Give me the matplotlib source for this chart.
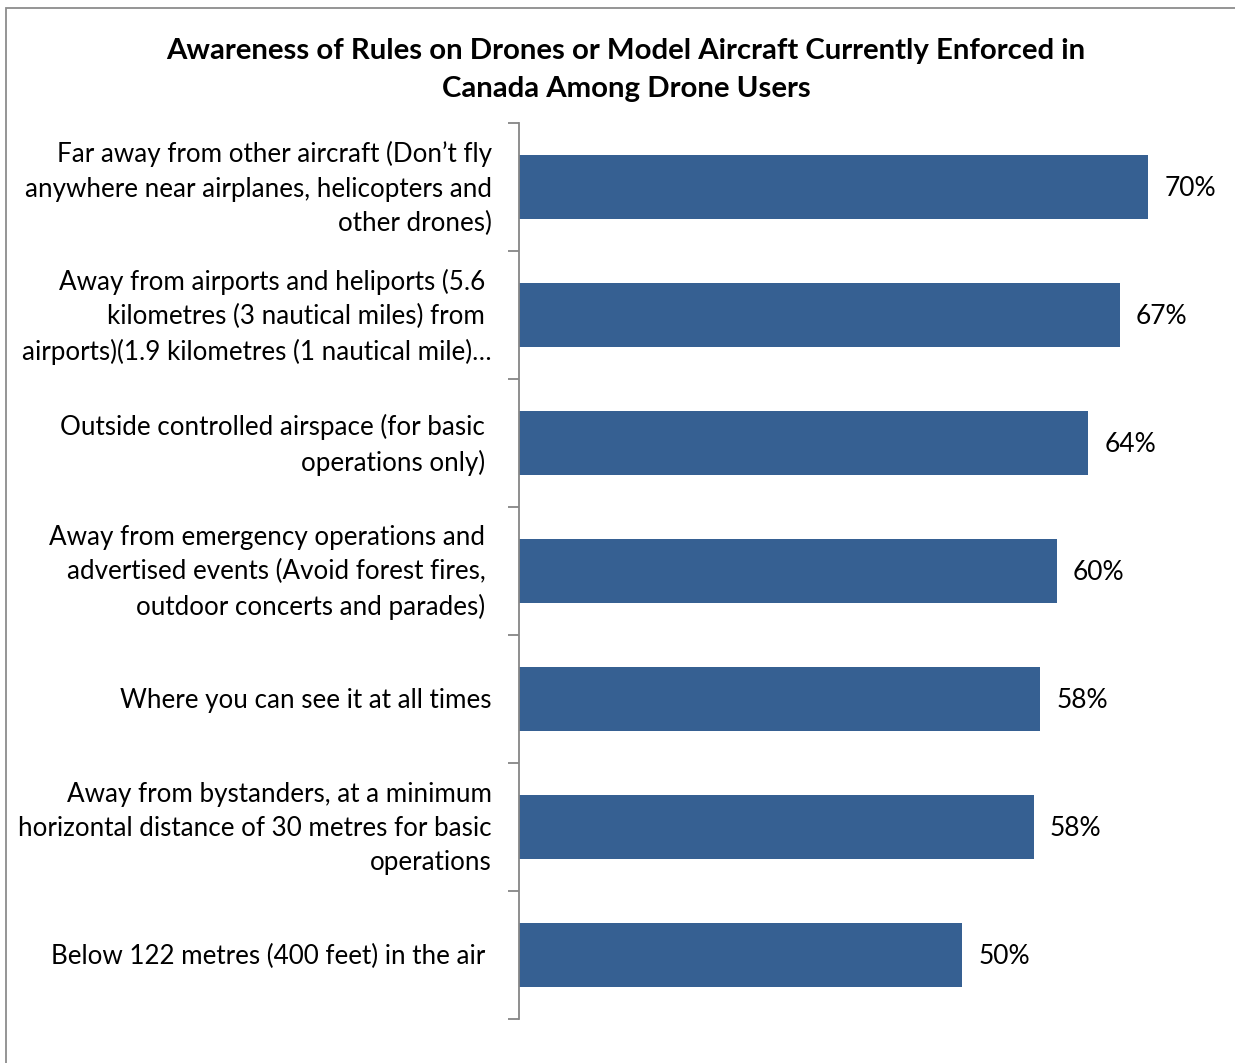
import matplotlib.pyplot as plt
import matplotlib.patches as mpatches

plt.rcParams['font.family'] = ['Lato', 'DejaVu Sans']

# Survey results (share of drone users aware of each rule), top to bottom
rules = [
    "Far away from other aircraft (Don\u2019t fly\nanywhere near airplanes, helicopters and\nother drones)",
    "Away from airports and heliports (5.6 \nkilometres (3 nautical miles) from \nairports)(1.9 kilometres (1 nautical mile)\u2026",
    "Outside controlled airspace (for basic \noperations only) ",
    "Away from emergency operations and \nadvertised events (Avoid forest fires, \noutdoor concerts and parades) ",
    "Where you can see it at all times",
    "Away from bystanders, at a minimum\nhorizontal distance of 30 metres for basic\noperations",
    "Below 122 metres (400 feet) in the air ",
]
awareness = [70.4, 67.2, 63.7, 60.2, 58.3, 57.6, 49.6]

title_lines = ["Awareness of Rules on Drones or Model Aircraft Currently Enforced in",
               "Canada Among Drone Users"]

W, H = 1235, 1063
fig = plt.figure(figsize=(W / 100, H / 100), dpi=100)

# chart-area border (only top and left edges fall inside the image)
frame = mpatches.Rectangle((6 / W, -0.05), 1.2, 1 - 8 / H + 0.05,
                           transform=fig.transFigure, fill=False,
                           edgecolor='#8c8c8c', linewidth=1.3)
fig.patches.append(frame)

ax = fig.add_axes([519 / W, 1 - 1019 / H, 715 / W, (1019 - 123) / H])

n = len(rules)
pos = list(range(n))
ax.barh(pos, awareness, height=0.5, color='#366092', edgecolor='none')
ax.set_ylim(n - 0.5, -0.5)
ax.set_xlim(0, 80)

for y, v in zip(pos, awareness):
    ax.text(v + 1.8, y + 0.015, f"{v:.0f}%", va='center', ha='left', fontsize=19)

# category labels, right-aligned left of the axis
for y, label in zip(pos, rules):
    ax.annotate(label, xy=(0, y), xycoords=('axes fraction', 'data'),
                xytext=(-19.5, -1.2), textcoords='offset points',
                ha='right', va='center', fontsize=18.7, linespacing=1.46,
                annotation_clip=False)

ax.set_yticks([p + 0.5 for p in [-1] + pos])
ax.set_yticklabels([])
ax.tick_params(axis='y', which='major', length=8, width=1.3, color='#868686')
ax.set_xticks([])

for side in ['top', 'right', 'bottom']:
    ax.spines[side].set_visible(False)
ax.spines['left'].set_color('#868686')
ax.spines['left'].set_linewidth(1.3)

# two-line title, each line placed on its own
for line, ypix in zip(title_lines, [48, 87]):
    fig.text(626 / W, 1 - ypix / H, line, ha='center', va='center_baseline',
             fontsize=21.2, fontweight='bold')

fig.savefig('out.png', dpi=100)
